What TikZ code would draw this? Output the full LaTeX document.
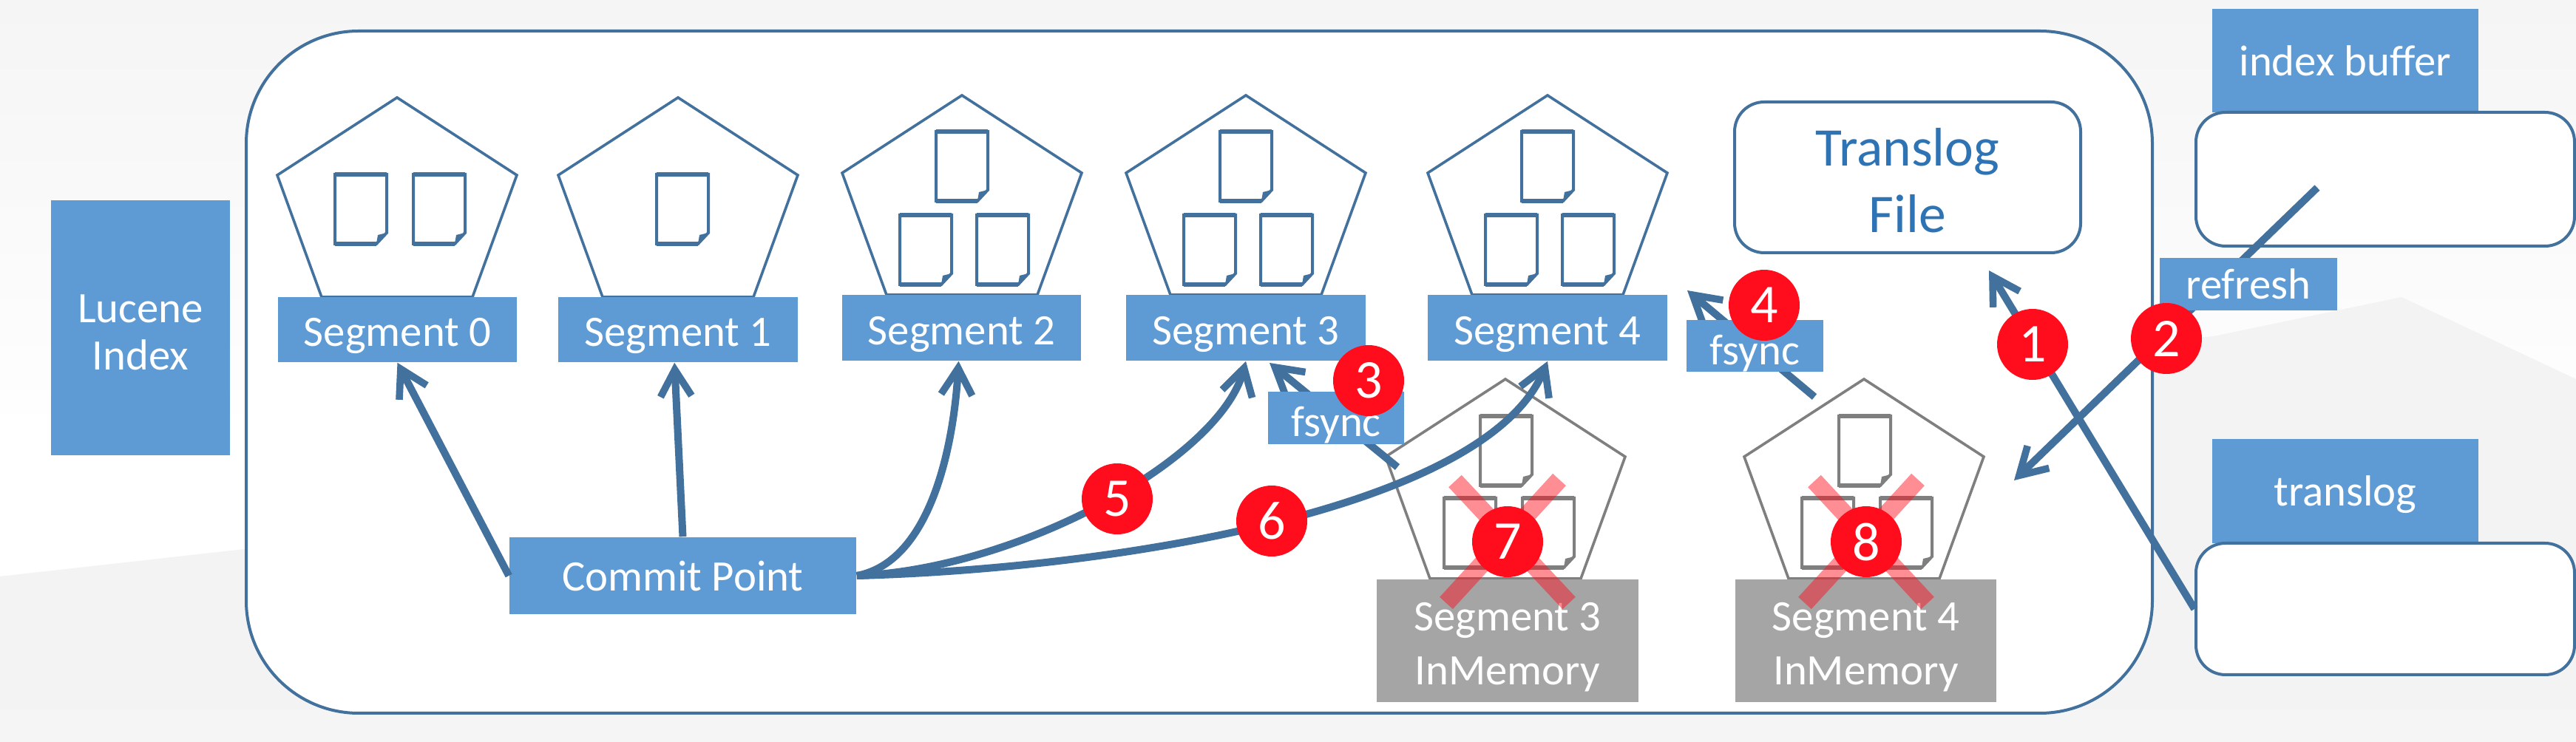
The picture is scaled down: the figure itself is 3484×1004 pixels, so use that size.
\documentclass[tikz,border=0pt]{standalone}
\usepackage{fontspec}
\setmainfont{Carlito}
\usetikzlibrary{arrows.meta}
\definecolor{boxblue}{HTML}{5E9BD4}
\definecolor{linkblue}{HTML}{41719C}
\definecolor{textblue}{HTML}{2E74B5}
\definecolor{memgrey}{HTML}{A5A5A5}
\definecolor{outlinegrey}{HTML}{7F7F7F}
\definecolor{badge}{HTML}{FF0D1D}
\definecolor{bgA}{HTML}{F5F5F5}
\definecolor{bgB}{HTML}{F3F3F3}
\definecolor{bgC}{HTML}{FEFEFE}
\def\u{0.25pt}
\newcommand{\lowa}{\rule{0pt}{14pt}}
\newcommand{\lowb}{\rule{0pt}{12.5pt}}
\tikzset{
  x=0.25pt,y=-0.25pt,
  bluebox/.style={fill=boxblue,text=white,inner sep=0pt,align=center,font=\fontsize{14.7}{16}\selectfont},
  greybox/.style={fill=memgrey,text=white,inner sep=0pt,align=center,font=\fontsize{14.7}{18.2}\selectfont},
  whitebox/.style={draw=linkblue,fill=white,line width=1pt,rounded corners=10pt,inner sep=0pt},
  link/.style={draw=linkblue,line width=2.5pt,-{Straight Barb[length=9pt,width=10.5pt,line width=2.4pt]}},
  badgec/.style={circle,fill=badge,text=white,minimum size=24pt,inner sep=0pt,font=\fontsize{18.5}{20}\selectfont},
  cross/.style={draw=badge,line width=6pt,opacity=0.47},
}
% name x1 y1 x2 y2 style text
\newcommand{\bx}[7]{\node[#6,minimum width={(#4-#2)*\u},minimum height={(#5-#3)*\u}] (#1) at ({(#2+#4)/2},{(#3+#5)/2}) {#7};}
% doc: left top colour
\newcommand{\docshape}[3]{%
  \draw[#3,line width=1pt,line join=miter] (#1,#2) -- ++(70,0) -- ++(0,79) -- ++(-14,15) -- ++(-56,0) -- cycle;
  \fill[#3] (#1+70,#2+79) -- ++(-14,15) -- ++(2,-12) -- cycle;
  \draw[#3,line width=1.5pt] (#1,#2) -- ++(70,0);
  \draw[#3,line width=1.5pt] (#1,#2+94) -- ++(56,0);
}
% pentagon: apex x, apex y, colour (shoulder +105, foot +270)
\newcommand{\penta}[3]{%
  \draw[#3,line width=0.9pt,fill=white,line join=miter] (#1,#2) -- (#1+162,#2+105) -- (#1+102,#2+270) -- (#1-102,#2+270) -- (#1-162,#2+105) -- cycle;
}
\begin{document}
\begin{tikzpicture}
\useasboundingbox (0,0) rectangle (3484,1004);
% backdrop
\fill[white] (0,0) rectangle (3484,1004);
\shade[top color=bgA,bottom color=bgC] (0,0) rectangle (3484,560);
\fill[bgB] (0,780) -- (330,743) -- (600,743) -- (600,1004) -- (0,1004) -- cycle;
\fill[bgB] (2700,480) -- (2994,455) -- (3248,402) -- (3484,513) -- (3484,1004) -- (2700,1004) -- cycle;
\fill[bgA] (0,960) rectangle (3484,1004);

\bx{outer}{333}{42}{2911}{965}{whitebox,rounded corners=38pt}{}
\bx{lucene}{69}{271}{311}{616}{bluebox}{\lowb Lucene\\Index}

% on-disk segments
\penta{537}{132}{draw=linkblue}
\penta{917}{132}{draw=linkblue}
\penta{1301}{129}{draw=linkblue}
\penta{1685}{129}{draw=linkblue}
\penta{2093}{129}{draw=linkblue}
\docshape{453}{236}{linkblue}
\docshape{559}{236}{linkblue}
\docshape{888}{236}{linkblue}
\docshape{1266}{178}{linkblue}
\docshape{1217}{291}{linkblue}
\docshape{1321}{291}{linkblue}
\docshape{1650}{178}{linkblue}
\docshape{1601}{291}{linkblue}
\docshape{1705}{291}{linkblue}
\docshape{2058}{178}{linkblue}
\docshape{2009}{291}{linkblue}
\docshape{2113}{291}{linkblue}
\bx{seg0}{376}{402}{699}{490}{bluebox}{\lowa Segment 0}
\bx{seg1}{755}{402}{1079}{490}{bluebox}{\lowa Segment 1}
\bx{seg2}{1139}{399}{1462}{488}{bluebox}{\lowa Segment 2}
\bx{seg3}{1523}{399}{1847}{488}{bluebox}{\lowa Segment 3}
\bx{seg4}{1931}{399}{2255}{488}{bluebox}{\lowa Segment 4}

% in-memory segments
\penta{2036}{513}{draw=outlinegrey}
\penta{2521}{513}{draw=outlinegrey}
\docshape{2002}{563}{outlinegrey}
\docshape{1953}{674}{outlinegrey}
\docshape{2059}{674}{outlinegrey}
\docshape{2487}{563}{outlinegrey}
\docshape{2437}{674}{outlinegrey}
\docshape{2543}{674}{outlinegrey}
\bx{mem3}{1862}{784}{2216}{950}{greybox}{\lowa Segment 3\\InMemory}
\bx{mem4}{2347}{784}{2700}{950}{greybox}{\lowa Segment 4\\InMemory}

\bx{cp}{689}{727}{1158}{831}{bluebox}{Commit Point}
\bx{tfile}{2346}{138}{2814}{342}{whitebox,text=textblue,align=center,font=\fontsize{18.4}{22.5}\selectfont}{\rule{0pt}{15pt}Translog\\File}

% right-hand buffers
\bx{ibuf}{2992}{12}{3352}{152}{bluebox}{index buffer}
\bx{ibox}{2970}{152}{3482}{333}{whitebox}{}
\bx{tlog}{2992}{594}{3352}{735}{bluebox}{\lowb translog}
\bx{tbox}{2970}{735}{3482}{913}{whitebox}{}

% free ends
\coordinate (fs3from) at (1890,632);
\coordinate (fs3to) at (1717,491);
\coordinate (fs4from) at (2454,537);
\coordinate (fs4to) at (2282,393);
\coordinate (tlto) at (2690,366);
\coordinate (reffrom) at (3134,254);
\coordinate (refto) at (2724,650);

% connectors
\draw[link] (cp.west) -- (seg0.south);
\draw[link] (cp.north) -- ([xshift=-1.2pt]seg1.south);
\draw[link] (cp.east) .. controls (1260,760) and (1290,600) .. ([xshift=-1pt]seg2.south);
\draw[link] (cp.east) .. controls (1380,770) and (1650,620) .. (seg3.south);
\draw[link] (cp.east) .. controls (1500,770) and (2010,690) .. (seg4.south);
\draw[link] (fs3from) -- (fs3to);
\draw[link] (fs4from) -- (fs4to);
\draw[link] (tbox.west) -- (tlto);
\draw[link] (reffrom) -- (refto);

% labels on the connectors
\bx{fsyncA}{1715}{530}{1899}{601}{bluebox}{\rule{0pt}{15pt}fsync}
\bx{fsyncB}{2281}{433}{2466}{503}{bluebox}{\rule{0pt}{15pt}fsync}
\bx{refresh}{2921}{349}{3161}{420}{bluebox}{refresh}

% crosses
\draw[cross] (1968,651) -- (2122,816);
\draw[cross] (2109,649) -- (1956,816);
\draw[cross] (2454,651) -- (2607,816);
\draw[cross] (2594,649) -- (2441,816);

% numbered badges
\node[badgec] (n1) at (2749,466) {1};
\node[badgec] (n2) at (2930,458) {2};
\node[badgec] (n3) at (1851,515) {3};
\node[badgec] (n4) at (2386,413) {4};
\node[badgec] (n5) at (1511,675) {5};
\node[badgec] (n6) at (1720,705) {6};
\node[badgec] (n7) at (2039,733) {7};
\node[badgec] (n8) at (2524,733) {8};
\end{tikzpicture}
\end{document}
